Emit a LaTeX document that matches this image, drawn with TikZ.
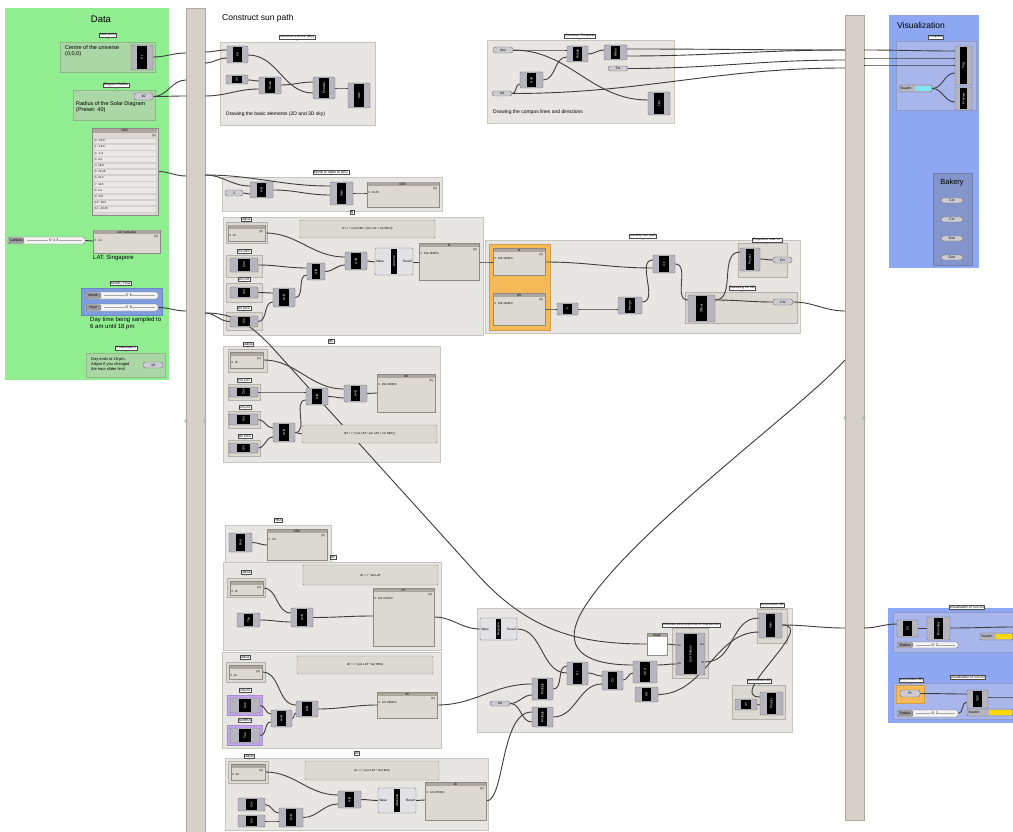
\documentclass[tikz,border=0pt]{standalone}
\usepackage{fontspec}
\setmainfont{Liberation Sans}
\usetikzlibrary{calc}
\pgfdeclarelayer{bg}
\pgfdeclarelayer{wl}
\pgfsetlayers{bg,wl,main}
\definecolor{grpfill}{HTML}{E8E6E2}
\definecolor{grpline}{HTML}{C9C6C0}
\definecolor{subfill}{HTML}{DCD9D3}
\definecolor{datagreen}{HTML}{90EE90}
\definecolor{subgreen}{HTML}{AAD7A5}
\definecolor{monthblue}{HTML}{7F9CE0}
\definecolor{visblue}{HTML}{8DA7F2}
\definecolor{compassg}{HTML}{A8B6EC}
\definecolor{bakeryg}{HTML}{8495CB}
\definecolor{barfill}{HTML}{D5D1C9}
\definecolor{barline}{HTML}{ACA8A0}
\definecolor{compfill}{HTML}{B6B5BD}
\definecolor{compline}{HTML}{707070}
\definecolor{lightcomp}{HTML}{E2E1E4}
\definecolor{panelfill}{HTML}{DCD9D2}
\definecolor{panelline}{HTML}{8E8A84}
\definecolor{panelhead}{HTML}{ABA79F}
\definecolor{orangeg}{HTML}{F5BA57}
\definecolor{purpleg}{HTML}{C5A6F5}
\definecolor{yellowsw}{HTML}{FFD800}
\definecolor{cyansw}{HTML}{7FE6F0}
\definecolor{wirec}{HTML}{3C3C3C}
\tikzset{
  grp/.style={draw=grpline, fill=grpfill, line width=0.6pt},
  sgrp/.style={draw=grpline!90!black, fill=subfill, line width=0.4pt},
  sgreen/.style={draw=subgreen!85!black, fill=subgreen, line width=0.4pt},
  mblue/.style={draw=monthblue!85!black, fill=monthblue, line width=0.4pt},
  cgrp/.style={draw=compassg!85!black, fill=compassg, line width=0.4pt},
  bkgrp/.style={draw=bakeryg!85!black, fill=bakeryg, line width=0.4pt},
  orgrp/.style={draw=orangeg!85!black, fill=orangeg, line width=0.4pt},
  pugrp/.style={draw=purpleg!85!black, fill=purpleg, line width=0.4pt},
  barst/.style={draw=barline, fill=barfill, line width=0.6pt},
  gcomp/.style={draw=compline, fill=compfill, rounded corners=1.2pt, line width=0.4pt, inner sep=0pt},
  gcore/.style={fill=black, inner sep=0pt, text=white, font=\fontsize{3.2}{3.5}\selectfont},
  wire/.style={draw=wirec, line width=0.9pt},
  gtagst/.style={draw=black!70, fill=white, inner sep=0.6pt, line width=0.3pt, font=\fontsize{3.4}{4}\selectfont},
  capsule/.style={draw=compline, fill=compfill!70!white, rounded corners=2.5pt, inner sep=0pt, line width=0.4pt, font=\fontsize{3.5}{4}\selectfont},
  note/.style={inner sep=0pt, anchor=north west, align=left, font=\fontsize{5.5}{6.6}\selectfont},
  tiny/.style={inner sep=0pt, font=\fontsize{3.2}{3.8}\selectfont},
  ttl/.style={inner sep=0pt, font=\fontsize{9.5}{11}\selectfont},
}
% component: name x1 y1 x2 y2 label
\newcommand{\comp}[6]{%
  \node[gcomp, minimum width={(#4-(#2))*1pt}, minimum height={(#5-(#3))*1pt}] (#1) at ({(#2+#4)/2},{(#3+#5)/2}) {};
  \node[gcore, minimum width={(#4-(#2))*0.42pt}, minimum height={(#5-(#3)-2)*1pt}] (#1c) at (#1.center) {\rotatebox{90}{#6}};}
% light component with Value/Result
\newcommand{\lcomp}[6]{%
  \node[gcomp, fill=lightcomp, minimum width={(#4-(#2))*1pt}, minimum height={(#5-(#3))*1pt}] (#1) at ({(#2+#4)/2},{(#3+#5)/2}) {};
  \node[gcore, minimum width=5.5pt, minimum height={(#5-(#3)-2)*1pt}] (#1c) at (#1.center) {\rotatebox{90}{#6}};
  \node[tiny, anchor=west] (#1v) at ([xshift=1pt]#1.west) {Value};
  \node[tiny, anchor=east] (#1r) at ([xshift=-1pt]#1.east) {Result};}
% panel: name x1 y1 x2 y2 title content
\newcommand{\gpanel}[7]{%
  \node[draw=panelline, fill=panelfill, line width=0.4pt, inner sep=0pt, minimum width={(#4-(#2))*1pt}, minimum height={(#5-(#3))*1pt}] (#1) at ({(#2+#4)/2},{(#3+#5)/2}) {};
  \fill[panelhead] ({#2+0.5},{#3+0.5}) rectangle ({#4-0.5},{#3+4.3});
  \node[tiny] (#1h) at ({(#2+#4)/2},{#3+2.4}) {#6};
  \node[tiny, anchor=east, font=\fontsize{2.8}{3}\selectfont] (#1i) at ({#4-2},{#3+6.6}) {\{0\}};
  \node[tiny, anchor=north west, align=left, font=\fontsize{2.8}{3.4}\selectfont] (#1t) at ({#2+1.5},{#3+9}) {#7};}
% expression panel
\newcommand{\expanel}[6]{%
  \node[draw=panelline, fill=panelfill, rounded corners=1pt, line width=0.4pt, inner sep=0pt, font=\fontsize{2.9}{3.4}\selectfont, minimum width={(#4-(#2))*1pt}, minimum height={(#5-(#3))*1pt}] (#1) at ({(#2+#4)/2},{(#3+#5)/2}) {#6};}
% capsule
\newcommand{\gcap}[6]{%
  \node[capsule, minimum width={(#4-(#2))*1pt}, minimum height={(#5-(#3))*1pt}] (#1) at ({(#2+#4)/2},{(#3+#5)/2}) {#6};}
% slider: name x1 y1 x2 y2 label value
\newcommand{\gslider}[7]{%
  \node[draw=compline, fill=white!85!compfill, rounded corners=1.5pt, line width=0.4pt, inner sep=0pt, minimum width={(#4-(#2))*1pt}, minimum height={(#5-(#3))*1pt}] (#1) at ({(#2+#4)/2},{(#3+#5)/2}) {};
  \node[draw=compline, fill=compfill!85!black, rounded corners=1pt, inner sep=0pt, line width=0.3pt, anchor=west, font=\fontsize{3.4}{4}\selectfont, minimum width=15pt, minimum height={(#5-(#3)-1.4)*1pt}] (#1l) at ({#2+0.7},{(#3+#5)/2}) {#6};
  \draw[black!35, line width=0.3pt] ({#2+19},{(#3+#5)/2}) -- ({#4-3},{(#3+#5)/2});
  \node[tiny, fill=white!85!compfill, inner sep=0.5pt, font=\fontsize{3.6}{4}\selectfont] (#1v) at ({(#2+#4)/2+7},{(#3+#5)/2}) {$\diamond$ #7};}
% swatch: name x1 y1 x2 y2 colour
\newcommand{\gswatch}[6]{%
  \node[draw=compline, fill=compfill, rounded corners=1pt, line width=0.4pt, inner sep=0pt, minimum width={(#4-(#2))*1pt}, minimum height={(#5-(#3))*1pt}] (#1) at ({(#2+#4)/2},{(#3+#5)/2}) {};
  \node[tiny, anchor=west, font=\fontsize{3.4}{4}\selectfont] (#1l) at ({#2+1.2},{(#3+#5)/2}) {Swatch};
  \node[fill=#6, inner sep=0pt, anchor=east, minimum width={(#4-(#2))*0.5pt}, minimum height={(#5-(#3)-1.2)*1pt}] (#1s) at ({#4-0.6},{(#3+#5)/2}) {};}
% group tag: name, "x,y", unused, text
\newcommand{\gtag}[4]{%
  \node[gtagst] (#1) at (#2) {#4};
  \fill[black!70] ($(#1.south)+(-1,0)$) -- ($(#1.south)+(1,0)$) -- ($(#1.south)+(0,1.4)$) -- cycle;}
\newcommand{\wire}[2]{\draw[wire] (#1) to[out=0,in=180] (#2);}

\begin{document}
\begin{tikzpicture}[x=1pt,y=-1pt]
\useasboundingbox (0,0) rectangle (1013,832);
\begin{pgfonlayer}{bg}
\fill[white] (0,0) rectangle (1013,832);
% Data panel
\fill[datagreen] (5,8) rectangle (169,380);
\draw[sgreen] (60,42) rectangle (155,72);
\draw[sgreen] (73,90) rectangle (155,120);
\draw[mblue] (81,288) rectangle (162,315);
\draw[sgreen] (86,353) rectangle (165,377);
% relay bars
\draw[barst] (186,8) rectangle (205,840);
\draw[barst] (845,15) rectangle (864,820);
% visualization
\fill[visblue] (889,15) rectangle (979,268);
\draw[cgrp] (896,41) rectangle (976,110);
\draw[bkgrp] (933,173) rectangle (972,265);
\fill[visblue] (888,608) rectangle (1015,723);
\draw[cgrp] (893,612) rectangle (1015,652);
\draw[cgrp] (893,683) rectangle (1015,719);
\draw[orgrp] (896,685) rectangle (924,703);
% construct sun path groups
\draw[grp] (220,42) rectangle (375,125);
\draw[grp] (487,40) rectangle (674,123);
\draw[grp] (222,177) rectangle (442,211);
\draw[grp] (223,217) rectangle (483,335);
\draw[sgrp] (226,222) rectangle (267,243);
\draw[sgrp] (226,255) rectangle (262,277);
\draw[sgrp] (226,283) rectangle (262,302);
\draw[sgrp] (226,312) rectangle (262,330);
\draw[grp] (223,346) rectangle (440,462);
\draw[sgrp] (228,349) rectangle (267,372);
\draw[sgrp] (228,384) rectangle (260,400);
\draw[sgrp] (228,411) rectangle (260,428);
\draw[sgrp] (228,440) rectangle (260,456);
\draw[grp] (485,240) rectangle (800,333);
\draw[orgrp] (489,244) rectangle (550,330);
\draw[sgrp] (738,243) rectangle (787,277);
\draw[sgrp] (685,292) rectangle (797,323);
\draw[grp] (225,525) rectangle (331,562);
\draw[grp] (223,562) rectangle (441,650);
\draw[sgrp] (227,578) rectangle (265,597);
\draw[grp] (222,652) rectangle (441,748);
\draw[sgrp] (226,662) rectangle (265,682);
\draw[pugrp] (227,695) rectangle (262,715);
\draw[pugrp] (227,725) rectangle (262,745);
\draw[grp] (225,758) rectangle (488,830);
\draw[sgrp] (228,761) rectangle (268,783);
\draw[grp] (477,608) rectangle (792,732);
\draw[sgrp] (672,628) rectangle (708,678);
\draw[sgrp] (757,609) rectangle (787,643);
\draw[sgrp] (732,685) rectangle (785,719);
\end{pgfonlayer}

% bar mid ports
\foreach \px/\py in {186/421,205/421,845/418,864/418}{\draw[compline, fill=white, line width=0.3pt] (\px,\py) circle (1.3);}

% ---------------- Data ----------------
\node[ttl] (tdata) at (101,19) {Data};
\gtag{tgbase}{108,35}{}{base point}
\node[note] (nbase) at (65,45) {Centre of the universe\\(0,0,0)};
\comp{pt}{131}{45}{153}{70}{Pt}
\gtag{tgrad}{116,85}{}{Diagram Radius}
\gcap{rad}{134}{93}{153}{100}{40}
\node[note] (nrad) at (76,101) {Radius of the Solar Diagram\\(Preset: 40)};
% DEC panel
\node[draw=panelline, fill=panelfill, line width=0.4pt, minimum width=66pt, minimum height=87pt, inner sep=0pt] (decp) at (125,171.5) {};
\fill[panelhead] (92.6,128.6) rectangle (157.4,133);
\node[tiny] (dech) at (125,130.8) {DEC};
\node[tiny, anchor=east, font=\fontsize{2.8}{3}\selectfont] (deci) at (156,135.5) {\{0\}};
\foreach \i/\v in {0/-20.9,1/-13.0,2/-2.4,3/9.4,4/18.8,5/23.45,6/21.2,7/13.5,8/2.2,9/-9.6,10/-19.2,11/-23.45}{
  \draw[panelline!40, fill=panelfill!60!white, line width=0.2pt] (94,{138+\i*6.2}) rectangle (156,{143.6+\i*6.2});
  \node[tiny, anchor=west, font=\fontsize{2.8}{3}\selectfont] (decr\i) at (95,{140.8+\i*6.2}) {\i\ \ \v};}
% latitude
\gslider{lat}{8}{237}{85}{244}{Latitude}{1.3}
\gpanel{latp}{93}{230}{160}{253}{LAT (latitude)}{0\ \ 1.3}
\node[note, font=\fontsize{6}{7}\selectfont] (nlat) at (93,255) {LAT: Singapore};
\gtag{tgmh}{121,283}{}{Month / Hour}
\gslider{month}{85}{292}{158}{299}{Month}{6}
\gslider{hour}{85}{304}{158}{311}{Hour}{6}
\node[note, font=\fontsize{6}{7.2}\selectfont] (nday) at (90,317) {Day time being sampled to\\6 am until 18 pm};
\gtag{tgimp}{126,348}{}{!! important !!}
\node[note, font=\fontsize{4}{5}\selectfont] (nimp) at (91,357) {Day ends at 18 pm.\\Adjust if you changed\\the hour slider limit};
\gcap{end}{143}{362}{163}{368}{18}

% ---------------- Construct sun path ----------------
\node[ttl, anchor=west, font=\fontsize{8.5}{10}\selectfont] (tcsp) at (222,18) {Construct sun path};
\gtag{tgdome}{297,37}{}{construct a dome (sky)}
\node[note, font=\fontsize{5}{6}\selectfont] (ndome) at (226,112) {Drawing the basic elements (2D and 3D sky)};
\comp{cir}{227}{46}{248}{63}{Cir}
\comp{xy}{226}{75}{248}{84}{XY}
\comp{scl}{259}{77}{281}{94}{Scale}
\comp{ext}{313}{77}{335}{99}{Extrude}
\comp{itm}{348}{83}{370}{108}{Item}

\gtag{tgcomp}{580,36}{}{Construct Compass}
\node[note, font=\fontsize{5}{6}\selectfont] (ncomp) at (493,110) {Drawing the compas lines and directions};
\gcap{vec}{493}{47}{513}{53}{Vec}
\comp{rot}{567}{46}{588}{62}{Rotate}
\comp{mir}{604}{45}{627}{60}{Mirror}
\gcap{txt}{608}{66}{628}{71}{Txt}
\comp{mul}{520}{72}{543}{88}{A×B}
\gcap{int}{492}{91}{512}{96}{Int}
\comp{lin}{648}{92}{670}{115}{Line}

\gtag{tgm2d}{331,172}{}{Month to index to DEC}
\gcap{one}{225}{190}{243}{196}{1}
\comp{sub}{250}{182}{273}{198}{A-B}
\comp{itd}{330}{182}{353}{205}{Item}
\gpanel{dec2}{367}{182}{439}{207}{DEC}{0\ \ 23.45}

% N group
\gtag{tgN}{352,212}{}{N}
\gtag{tgr1}{246,219}{}{radius}
\gpanel{rp1}{228}{225}{265}{241}{}{0\ \ 40}
\expanel{ex1}{300}{220}{435}{238}{N = r * (cos DEC / (sin LAT + sin DEC))}
\gtag{tgcd1}{244,251}{}{cos DEC}
\comp{cd1}{230}{258}{258}{272}{Cos}
\gtag{tgsl1}{244,279}{}{sin LAT}
\comp{sl1}{230}{287}{258}{298}{Sin}
\gtag{tgsd1}{244,308}{}{sin DEC}
\comp{sd1}{230}{316}{258}{327}{Sin}
\comp{m1}{273}{288}{295}{307}{A+B}
\comp{m2}{307}{263}{325}{280}{A/B}
\comp{m3}{345}{252}{367}{270}{A×B}
\lcomp{as1}{375}{248}{413}{275}{Arcsine}
\gpanel{np}{419}{243}{479}{280}{N}{0\ \ 159.183653}

% dN group
\gtag{tgdN}{331,341}{}{dN}
\gtag{tgr2}{248,344}{}{radius}
\gpanel{rp2}{230}{352}{263}{368}{}{0\ \ 40}
\gtag{tgcl2}{244,380}{}{cos LAT}
\comp{cl2}{229}{387}{258}{397}{Cos}
\gtag{tgsl2}{245,407}{}{sin LAT}
\comp{sl2}{229}{414}{258}{425}{Sin}
\gtag{tgsd2}{245,436}{}{sin DEC}
\comp{sd2}{229}{443}{258}{453}{Sin}
\comp{lo2}{273}{423}{295}{442}{A+B}
\comp{mi2}{306}{388}{328}{405}{A/B}
\comp{ri2}{344}{385}{367}{402}{A×B}
\gpanel{dnp}{377}{374}{435}{412}{dN}{0\ \ 159.183653}
\expanel{ex2}{302}{425}{437}{443}{dN = r * (cos LAT / (sin LAT + sin DEC))}

% monthly sun path
\gtag{tgmsp}{643,236}{}{monthly sun path}
\gpanel{npan}{493}{248}{545}{275}{N}{0\ \ 159.183653}
\gpanel{dnpan}{493}{293}{545}{325}{dN}{0\ \ 159.183653}
\comp{fc}{557}{303}{578}{315}{F}
\comp{mg}{618}{297}{642}{314}{Merge}
\comp{arc}{653}{255}{675}{273}{Cir}
\gtag{tgproj}{767,240}{}{Projection onto XY}
\comp{prj}{740}{248}{760}{271}{Project}
\gcap{crv1}{773}{257}{792}{263}{Crv}
\gtag{tgsw}{742,288}{}{Sweeping for 2D}
\comp{swp}{688}{295}{715}{322}{Offset}
\gcap{crv2}{773}{299}{793}{305}{Crv}

% HRA
\gtag{tghra}{278,520}{}{HRA}
\comp{hc}{229}{533}{252}{552}{Bnd}
\gpanel{hp}{267}{529}{327}{560}{HRA}{0\ \ -90}
% dY
\gtag{tgdy}{333,557}{}{dY}
\gtag{tgr3}{246,572}{}{radius}
\gpanel{rp3}{230}{581}{263}{595}{}{0\ \ 40}
\expanel{ex3}{303}{565}{438}{585}{dY = r * tan LAT}
\comp{tn3}{237}{613}{260}{627}{Tan}
\comp{mu3}{291}{608}{313}{627}{A×B}
\gpanel{dyp}{373}{588}{434}{646}{dY}{0\ \ 121.675033}
% dh
\gtag{tgr4}{245,657}{}{radius}
\gpanel{rp4}{229}{665}{262}{679}{}{0\ \ 40}
\expanel{ex4}{297}{656}{433}{674}{dh = r / (cos LAT * tan HRA)}
\gtag{tgc4}{245,690}{}{cosLAT}
\comp{c4}{230}{698}{260}{713}{Cos}
\gtag{tgt4}{245,720}{}{tanHRA}
\comp{t4}{230}{728}{260}{743}{Tan}
\comp{mi4}{271}{710}{292}{727}{A×B}
\comp{rt4}{296}{701}{318}{717}{A/B}
\gpanel{dhp}{377}{692}{437}{718}{dh}{0\ \ 121.698002}
% dx
\gtag{tgdx}{357,753}{}{dx}
\gtag{tgr5}{249,756}{}{radius}
\gpanel{rp5}{231}{764}{265}{780}{}{0\ \ 40}
\expanel{ex5}{305}{761}{439}{780}{dx = r / (cos LAT * sin HRA)}
\comp{c5}{238}{798}{265}{811}{Cos}
\comp{s5}{238}{815}{265}{827}{Sin}
\comp{m5}{279}{808}{303}{827}{A×B}
\comp{d5}{338}{791}{361}{808}{A/B}
\lcomp{ab5}{378}{788}{416}{813}{Absolute}
\gpanel{dxp}{425}{782}{486}{820}{dx}{0\ \ 121.675051}

% big group
\lcomp{neg}{480}{618}{517}{640}{Negative}
\gcap{int2}{490}{701}{510}{706}{Int}
\comp{mul1}{532}{678}{553}{700}{Multiply}
\comp{mul2}{532}{707}{553}{727}{Multiply}
\comp{pt2}{567}{662}{588}{685}{Pt}
\comp{ci2}{602}{671}{623}{690}{Cir}
\comp{ccx}{633}{661}{657}{683}{CCX}
\comp{alt}{635}{687}{658}{702}{Alt}
\node[draw=panelline, fill=white, line width=0.4pt, inner sep=0pt, minimum width=20pt, minimum height=22pt] (mask) at (657,644) {};
\fill[panelhead] (647.5,633.5) rectangle (666.5,637);
\node[tiny] (maskh) at (657,635.3) {Mask};
\gtag{tgelim}{691,625}{}{eliminate excess points of intersection}
\comp{cull}{676}{633}{705}{675}{Cull Pattern}
\node[tiny, anchor=west, font=\fontsize{2.8}{3}\selectfont] (cullA) at (677,645) {lns};
\node[tiny, anchor=west, font=\fontsize{2.8}{3}\selectfont] (cullB) at (677,664) {pts};
\node[tiny, anchor=east, font=\fontsize{2.8}{3}\selectfont] (cullC) at (704,645) {out};
\node[tiny, anchor=east, font=\fontsize{2.8}{3}\selectfont] (cullD) at (704,663) {B};
\gtag{tgsp3}{772,605}{}{sun position 3D}
\comp{itm2}{759}{613}{782}{638}{Item}
\gtag{tgsp2}{759,681}{}{sun position 2D}
\comp{xy2}{735}{699}{757}{710}{XY}
\comp{prj2}{760}{692}{783}{715}{Project}

% ---------------- Visualization ----------------
\node[ttl, font=\fontsize{8.5}{10}\selectfont] (tvis) at (921,25) {Visualization};
\gtag{tgcmp}{936,37}{}{compass}
\comp{tagc}{955}{46}{972}{85}{Tag}
\comp{prev}{955}{87}{972}{110}{Preview}
\gswatch{sw0}{899}{85}{932}{92}{cyansw}
\node[ttl, font=\fontsize{7.5}{9}\selectfont] (tbak) at (952,183) {Bakery};
\gcap{bk1}{941}{198}{963}{203}{Crv}
\gcap{bk2}{941}{217}{963}{222}{Crv}
\gcap{bk3}{941}{236}{963}{241}{Geo}
\gcap{bk4}{941}{255}{963}{260}{Geo}

\gtag{tgv3}{967,607}{}{visualisation of sun 3D}
\comp{vc1}{897}{620}{918}{637}{Cir}
\comp{bd1}{927}{617}{950}{640}{Boundary}
\gswatch{sw1}{980}{633}{1013}{640}{yellowsw}
\gslider{rad1}{897}{642}{958}{648}{Radius}{2}
\gtag{tgv2}{968,677}{}{visualisation of sun 2D}
\gtag{tgsp3b}{911,680}{}{sun position 3D}
\gcap{pt3}{900}{690}{920}{697}{Pt}
\gslider{rad2}{897}{710}{958}{717}{Radius}{2}
\comp{sph}{967}{690}{988}{708}{Sph}
\gswatch{sw2}{967}{709}{1013}{716}{yellowsw}

% relay coordinates
\coordinate (bl1) at (186,53);
\coordinate (bl2) at (186,80);
\coordinate (bl3) at (186,96);
\coordinate (br1) at (205,52);
\coordinate (br2) at (205,63);
\coordinate (br3) at (205,96);
\coordinate (bl4) at (186,176);
\coordinate (br4) at (205,175);
\coordinate (bl5) at (186,311);
\coordinate (br5) at (205,313);
\coordinate (rl1) at (845,50);
\coordinate (rl2) at (845,60);
\coordinate (rl3) at (845,68);
\coordinate (rr1) at (864,50);
\coordinate (rr2) at (864,58);
\coordinate (rr3) at (864,65);
\coordinate (rl4) at (845,311);
\coordinate (rl5) at (845,360);
\coordinate (rl6) at (845,628);
\coordinate (rr6) at (864,628);
\coordinate (re1) at (1015,627);
\coordinate (re2) at (1015,697);

% ---------------- wires ----------------
\begin{pgfonlayer}{wl}
% data to bar
\wire{pt.east |- 0,57}{bl1}
\wire{rad.east}{bl2}
\wire{rad.east}{bl3}
\wire{decp.east}{bl4}
\wire{hour.east}{bl5}
\wire{lat.east}{latp.west |- 0,241}
% dome
\wire{br1}{cir.west |- 0,50}
\wire{br2}{cir.west |- 0,58}
\wire{br3}{scl.west |- 0,89}
\wire{cir.east |- 0,55}{ext.west |- 0,93}
\wire{xy.east |- 0,80}{scl.west |- 0,81}
\wire{scl.east |- 0,85}{ext.west |- 0,82}
\wire{ext.east |- 0,88}{itm.west |- 0,88}
% compass
\wire{vec.east}{rot.west |- 0,50}
\wire{vec.east}{lin.west |- 0,100}
\wire{mul.east |- 0,80}{rot.west |- 0,57}
\wire{int.east}{mul.west |- 0,84}
\wire{rot.east |- 0,54}{mir.west |- 0,50}
\wire{mir.east |- 0,49}{rl1}
\wire{mir.east |- 0,56}{rl1}
\wire{txt.east}{rl2}
\wire{int.east}{rl3}
\wire{rr1}{tagc.west |- 0,51}
\wire{rr2}{tagc.west |- 0,58}
\wire{rr3}{tagc.west |- 0,65}
\wire{sw0.east}{tagc.west |- 0,73}
\wire{sw0.east}{prev.west |- 0,102}
% month to DEC
\wire{br4}{itd.west |- 0,186}
\wire{br4}{sub.west |- 0,186}
\wire{one.east}{sub.west |- 0,194}
\wire{sub.east |- 0,190}{itd.west |- 0,195}
\wire{itd.east |- 0,193}{dec2.west |- 0,193}
% N
\wire{rp1.east}{m3.west |- 0,257}
\wire{cd1.east}{m2.west |- 0,268}
\wire{sl1.east}{m1.west |- 0,293}
\wire{br5}{sd1.west}
\wire{sd1.east}{m1.west |- 0,302}
\wire{m1.east}{m2.west |- 0,275}
\wire{m2.east}{m3.west |- 0,265}
\wire{m3.east}{as1.west |- 0,262}
\wire{as1.east |- 0,262}{np.west |- 0,262}
\wire{np.east |- 0,262}{npan.west |- 0,262}
% dN
\wire{rp2.east}{ri2.west |- 0,389}
\wire{cl2.east}{mi2.west |- 0,392}
\wire{sl2.east}{lo2.west |- 0,428}
\wire{sd2.east}{lo2.west |- 0,437}
\wire{lo2.east}{ex2.west |- 0,434}
\wire{lo2.east}{mi2.west |- 0,400}
\wire{mi2.east}{ri2.west |- 0,398}
\wire{ri2.east}{dnp.west |- 0,393}
% monthly sun path
\wire{npan.east |- 0,262}{arc.west |- 0,268}
\wire{dnpan.east |- 0,309}{fc.west}
\wire{fc.east}{mg.west |- 0,309}
\wire{mg.east |- 0,302}{arc.west |- 0,260}
\wire{arc.east}{swp.west |- 0,300}
\wire{swp.east |- 0,300}{prj.west |- 0,252}
\wire{swp.east |- 0,300}{crv2.west}
\wire{prj.east |- 0,259}{crv1.west}
\wire{crv2.east}{rl4}
% HRA, dY, dh, dx
\wire{hc.east}{hp.west |- 0,545}
\wire{rp3.east}{mu3.west |- 0,613}
\wire{tn3.east}{mu3.west |- 0,622}
\wire{mu3.east}{dyp.west |- 0,616}
\wire{rp4.east}{rt4.west |- 0,705}
\wire{c4.east}{mi4.west |- 0,714}
\wire{t4.east}{mi4.west |- 0,722}
\wire{mi4.east}{rt4.west |- 0,713}
\wire{rt4.east}{dhp.west |- 0,705}
\wire{rp5.east}{d5.west |- 0,795}
\wire{c5.east}{m5.west |- 0,813}
\wire{s5.east}{m5.west |- 0,821}
\wire{m5.east}{d5.west |- 0,804}
\wire{d5.east}{ab5.west}
\wire{ab5.east}{dxp.west |- 0,800}
% big group
\wire{dyp.east |- 0,617}{neg.west}
\wire{neg.east}{pt2.west |- 0,673}
\wire{dhp.east |- 0,705}{mul1.west |- 0,684}
\wire{int2.east}{mul1.west |- 0,695}
\wire{int2.east}{mul2.west |- 0,722}
\draw[wire] (dxp.east |- 0,801) .. controls (505,801) and (500,712) .. (mul2.west |- 0,712);
\wire{mul1.east |- 0,689}{pt2.west |- 0,666}
\wire{mul2.east |- 0,717}{ci2.west |- 0,684}
\wire{pt2.east |- 0,673}{ci2.west |- 0,676}
\wire{ci2.east |- 0,680}{ccx.west |- 0,673}
\wire{mask.east}{cull.west |- 0,645}
\wire{ccx.east |- 0,665}{cull.west |- 0,664}
\draw[wire] (alt.east) .. controls (705,694) and (715,632) .. (itm2.west |- 0,632);
\draw[wire] (cull.east |- 0,662) .. controls (735,662) and (730,618) .. (itm2.west |- 0,618);
\draw[wire] (itm2.east |- 0,625) .. controls (818,625) and (725,697) .. (prj2.west |- 0,697);
\wire{xy2.east}{prj2.west |- 0,705}
\wire{itm2.east |- 0,625}{rl6}
% long wires
\draw[wire] (br5) .. controls (235,313) and (250,325) .. (270,345) -- (478,575) .. controls (530,632) and (580,644) .. (mask.west);
\draw[wire] (rl5) .. controls (800,410) and (620,540) .. (580,615) .. controls (560,655) and (595,665) .. (ccx.west |- 0,665);
% visualization bottom
\wire{rr6}{vc1.west |- 0,624}
\wire{vc1.east |- 0,628}{bd1.west |- 0,628}
\wire{bd1.east |- 0,628}{re1}
\wire{pt3.east}{sph.west |- 0,694}
\wire{rad2.east}{sph.west |- 0,702}
\wire{sph.east |- 0,697}{re2}
\end{pgfonlayer}
\end{tikzpicture}
\end{document}
